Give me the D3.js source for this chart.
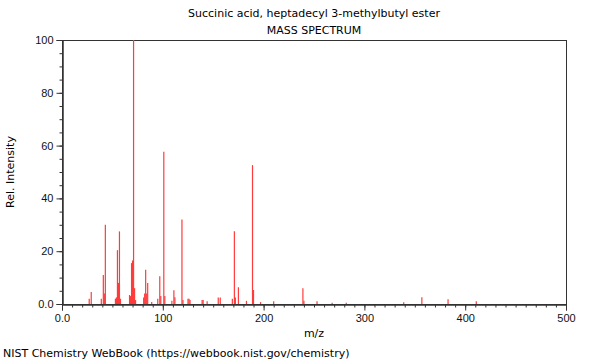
<!DOCTYPE html>
<html>
<head>
    <meta charset="utf-8" />
    <title>Mass spectrum</title>
    <script src="https://cdn.jsdelivr.net/npm/d3@7"></script>
    <style>
        body { margin: 0; background: #fff; }
        svg { font-family: "DejaVu Sans", sans-serif; }
        .axis path, .axis line { stroke: #333; }
        .axis text { font-size: 11px; fill: #111; }
    </style>
</head>
<body>
    <svg id="chart" width="600" height="360"></svg>
    <script>
        // peaks: m/z and relative intensity
        var mz = [27, 29, 39, 41, 42, 43, 53, 54, 55, 56, 57, 58,
                  67, 68, 69, 70, 71, 72, 73, 81, 82, 83, 84, 85, 89,
                  95, 97, 98, 101, 102, 109, 111, 112, 119, 120, 125, 126, 127,
                  139, 140, 144, 155, 157, 169, 171, 172, 175, 183, 189, 190,
                  197, 210, 239, 240, 253, 268, 282, 339, 357, 383, 411];
        var intensity = [2, 4.5, 2, 11, 4, 30, 2, 2.5, 20.4, 8, 27.5, 2,
                         3.4, 3, 15.5, 16.5, 100, 6, 1.5, 2.5, 4, 13, 4, 8, 0.8,
                         2, 10.5, 3, 57.7, 3, 1.2, 5.2, 2.6, 32, 1.5, 2, 2, 1.5,
                         1.5, 1.5, 1, 2.5, 2.5, 2, 27.6, 2.5, 6.3, 1.2, 52.6, 5.3,
                         0.7, 1, 6, 1.2, 1, 0.5, 0.5, 0.7, 2.6, 1.8, 1];

        var xTicks = [0, 100, 200, 300, 400, 500];
        var yTicks = [0, 20, 40, 60, 80, 100];

        var svg = d3.select("#chart");
        var plotL = 62, plotR = 566, plotT = 40, plotB = 304;

        var x = d3.scaleLinear().domain([0, 500]).range([plotL, plotR]);
        var y = d3.scaleLinear().domain([0, 100]).range([plotB, plotT]);

        // frame
        svg.append("rect")
            .attr("x", plotL + 0.5).attr("y", plotT + 0.5)
            .attr("width", plotR - plotL).attr("height", plotB - plotT)
            .attr("fill", "none").attr("stroke", "#333");

        // peaks
        svg.append("g")
            .selectAll("line")
            .data(mz)
            .enter()
            .append("line")
            .attr("x1", function(d) { return x(d); })
            .attr("x2", function(d) { return x(d); })
            .attr("y1", y(0))
            .attr("y2", function(d, i) { return y(intensity[i]); })
            .attr("stroke", "#ff3b3b")
            .attr("stroke-width", 1.2);

        var fmt = function(d) { return d === 0 ? "0.0" : d; };

        // minor ticks
        svg.append("g").attr("class", "axis")
            .attr("transform", "translate(0," + (plotB + 0.5) + ")")
            .call(d3.axisBottom(x).tickValues(d3.range(0, 501, 10)).tickSize(3).tickFormat(""));
        svg.append("g").attr("class", "axis")
            .attr("transform", "translate(" + (plotL + 0.5) + ",0)")
            .call(d3.axisLeft(y).tickValues(d3.range(0, 101, 5)).tickSize(3).tickFormat(""));

        // major ticks
        svg.append("g").attr("class", "axis")
            .attr("transform", "translate(0," + (plotB + 0.5) + ")")
            .call(d3.axisBottom(x).tickValues(xTicks).tickSize(6).tickPadding(4).tickFormat(fmt));
        svg.append("g").attr("class", "axis")
            .attr("transform", "translate(" + (plotL + 0.5) + ",0)")
            .call(d3.axisLeft(y).tickValues(yTicks).tickSize(6).tickPadding(3).tickFormat(fmt));

        // texts
        svg.append("text").attr("x", 314).attr("y", 17)
            .attr("text-anchor", "middle").style("font-size", "11px")
            .text("Succinic acid, heptadecyl 3-methylbutyl ester");
        svg.append("text").attr("x", 314).attr("y", 34)
            .attr("text-anchor", "middle").style("font-size", "11px")
            .text("MASS SPECTRUM");
        svg.append("text").attr("x", 314).attr("y", 337)
            .attr("text-anchor", "middle").style("font-size", "11px")
            .text("m/z");
        svg.append("text")
            .attr("transform", "translate(14,172) rotate(-90)")
            .attr("text-anchor", "middle").style("font-size", "11px")
            .text("Rel. Intensity");
        svg.append("text").attr("x", 3).attr("y", 357)
            .style("font-size", "11px")
            .text("NIST Chemistry WebBook (https://webbook.nist.gov/chemistry)");
    </script>
</body>
</html>
